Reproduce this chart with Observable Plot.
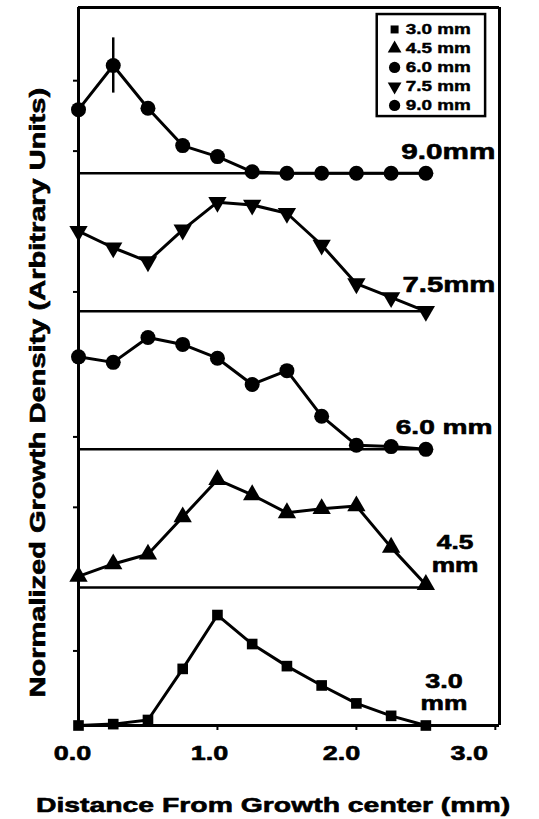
<!DOCTYPE html>
<html>
<head>
<meta charset="utf-8">
<script src="https://cdn.jsdelivr.net/npm/d3@7"></script>
<script src="https://cdn.jsdelivr.net/npm/@observablehq/plot@0.6"></script>
<style>
  html, body { margin: 0; padding: 0; background: #fff; }
  #chart svg { display: block; }
</style>
</head>
<body>
<div id="chart"></div>
<script>
// Distance from the growth center (mm) at which density was sampled
const distance = [0, 0.25, 0.5, 0.75, 1.0, 1.25, 1.5, 1.75, 2.0, 2.25, 2.5];

// Series, bottom to top
const series = ["3.0 mm", "4.5 mm", "6.0 mm", "7.5 mm", "9.0 mm"];

// Normalized growth density per series (arbitrary units, 0 = series baseline)
const density30 = [0.00, 0.01, 0.04, 0.41, 0.80, 0.59, 0.43, 0.29, 0.16, 0.07, 0.00];
const density45 = [0.08, 0.17, 0.24, 0.51, 0.78, 0.67, 0.54, 0.57, 0.59, 0.29, 0.02];
const density60 = [0.67, 0.63, 0.81, 0.76, 0.66, 0.47, 0.57, 0.24, 0.03, 0.02, 0.00];
const density75 = [0.58, 0.46, 0.36, 0.59, 0.79, 0.77, 0.71, 0.48, 0.20, 0.10, 0.00];
const density90 = [0.46, 0.78, 0.47, 0.20, 0.12, 0.01, 0.00, 0.00, 0.00, 0.00, 0.00];

// Error bar on the 9.0 mm series
const errorSeries = "9.0 mm";
const errorDistance = 0.25;
const errorLow = 0.58;
const errorHigh = 0.98;

// Small marks on the vertical axis (series, value)
const yTickSeries = ["9.0 mm", "9.0 mm", "7.5 mm", "6.0 mm", "4.5 mm", "3.0 mm"];
const yTickValues = [0.67, 0.16, 0.14, 0.09, 0.58, 0.54];

// Horizontal axis ticks
const xTicks = [0, 1, 2, 3];
const xTickLabels = ["0.0", "1.0", "2.0", "3.0"];

// Series labels drawn at the right of each curve (one entry per text line)
const labelSeries = ["9.0 mm", "7.5 mm", "6.0 mm", "4.5 mm", "4.5 mm", "3.0 mm", "3.0 mm"];
const labelText = ["9.0mm", "7.5mm", "6.0 mm", "4.5", "mm", "3.0", "mm"];

const xTitle = "Distance From Growth center (mm)";
const yTitle = "Normalized Growth Density (Arbitrary Units)";

// ---- build tables ----
const densities = [density30, density45, density60, density75, density90];
const symbols = ["square", "triangle", "circle", "triangle", "circle"];
const rotations = [0, 0, 0, 180, 0];
const sizes = [6, 6.8, 7.5, 6.8, 7.5];

const rows = series.flatMap((s, i) =>
  distance.map((d, j) => ({series: s, stack: i, distance: d, value: densities[i][j], y: i + densities[i][j]}))
);
const stackOf = (s) => series.indexOf(s);

const xMax = 3.03, yMax = 5.2;

// label placement: x position, vertical offset above the baseline, anchor, size
const labelPlace = [
  {x: 3.0,  dy: 0.155, anchor: "end",    size: 22},
  {x: 3.0,  dy: 0.19,  anchor: "end",    size: 21.7},
  {x: 2.98, dy: 0.16,  anchor: "end",    size: 20.8},
  {x: 2.71, dy: 0.32,  anchor: "middle", size: 19.5},
  {x: 2.71, dy: 0.155, anchor: "middle", size: 19.5},
  {x: 2.63, dy: 0.32,  anchor: "middle", size: 20},
  {x: 2.63, dy: 0.155, anchor: "middle", size: 19.5}
];
const labels = labelText.map((t, i) => ({text: t, series: labelSeries[i], ...labelPlace[i]}));

// horizontal nudges of the tick labels (px)
const tickShift = [-6, -8, -15, -26];

// legend layout (data units)
const legendTop = 5.041, legendStep = 0.1376;
const legendRows = series.map((s, i) => ({series: s, i, y: legendTop - i * legendStep}));

const yTicks = yTickValues.map((v, i) => stackOf(yTickSeries[i]) + v);

// heavy lettering: thin outline thickens the bold glyphs
const heavy = {fontWeight: "bold", fill: "black", stroke: "black", strokeWidth: 0.6};

const marks = [
  // frame
  Plot.ruleX([0], {y1: 0, y2: yMax, strokeWidth: 3}),
  Plot.ruleX([xMax], {y1: 0, y2: yMax, strokeWidth: 3}),
  Plot.ruleY([yMax], {x1: 0, x2: xMax, strokeWidth: 3}),
  Plot.ruleY([0], {x1: 0, x2: xMax, strokeWidth: 3}),
  // series baselines
  Plot.ruleY(series.slice(1).map((s) => stackOf(s)), {x1: 0, x2: d3.max(distance), strokeWidth: 2.5}),
  // axes ticks
  Plot.axisY(yTicks, {tickSize: 5, tickFormat: () => "", strokeWidth: 2, label: null}),
  Plot.axisX(xTicks, {tickSize: 5, tickFormat: () => "", strokeWidth: 2, label: null}),
  // error bar
  Plot.ruleX([{d: errorDistance, s: errorSeries}], {
    x: "d", y1: (e) => stackOf(e.s) + errorLow, y2: (e) => stackOf(e.s) + errorHigh, strokeWidth: 2.5
  }),
  // curves
  Plot.line(rows, {x: "distance", y: "y", z: "series", stroke: "black", strokeWidth: 3}),
  ...series.map((s, i) => Plot.dot(rows.filter((r) => r.series === s), {
    x: "distance", y: "y", symbol: symbols[i], rotate: rotations[i], r: sizes[i], fill: "black", stroke: "none"
  })),
  // series labels
  ...labels.map((l) => Plot.text([l], {
    x: "x", y: (d) => stackOf(d.series) + d.dy, text: "text", textAnchor: l.anchor,
    fontSize: l.size, ...heavy
  })),
  // x tick labels
  ...xTicks.map((t, i) => Plot.text([t], {x: (d) => d, y: -0.2, text: () => xTickLabels[i], dx: tickShift[i],
    fontSize: 20, ...heavy})),
  // titles
  Plot.text([xTitle], {x: 1.4, y: -0.58, text: (d) => d, fontSize: 21, ...heavy}),
  Plot.text([yTitle], {x: -0.29, y: 2.41, text: (d) => d, rotate: -90, fontSize: 21.5, ...heavy}),
  // legend
  Plot.rect([0], {x1: 2.15, x2: 2.93, y1: 4.41, y2: 5.149, fill: "white", stroke: "black", strokeWidth: 2.5}),
  ...legendRows.map((l) => Plot.dot([l], {
    x: 2.275, y: "y", symbol: symbols[l.i], rotate: rotations[l.i], r: sizes[l.i] * 0.75, fill: "black", stroke: "none"
  })),
  Plot.text(legendRows, {x: 2.355, y: "y", text: "series", textAnchor: "start", fontSize: 14, ...heavy, strokeWidth: 0.4})
];

const chart = Plot.plot({
  width: 539,
  height: 819,
  marginLeft: 78,
  marginRight: 40,
  marginTop: 7,
  marginBottom: 94,
  x: {domain: [0, xMax], label: null},
  y: {domain: [0, yMax], label: null},
  style: {fontFamily: "'Liberation Sans', Arial, sans-serif", background: "white", color: "black"},
  marks
});
document.getElementById("chart").append(chart);

// wide lettering: stretch each text horizontally
d3.select(chart).selectAll("text").each(function () {
  const t = this.textContent.trim();
  if (!t) return;
  const w = this.getComputedTextLength();
  this.setAttribute("textLength", (w * 1.35).toFixed(1));
  this.setAttribute("lengthAdjust", "spacingAndGlyphs");
});
</script>
</body>
</html>
